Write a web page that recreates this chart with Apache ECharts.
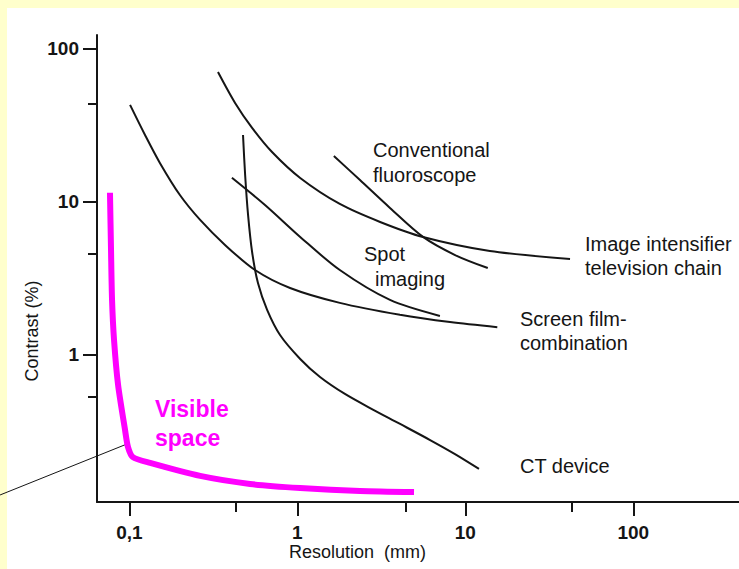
<!DOCTYPE html>
<html>
<head>
<meta charset="utf-8">
<script src="https://cdn.jsdelivr.net/npm/echarts@6/dist/echarts.min.js"></script>
<style>
  html, body { margin: 0; padding: 0; background: #FFFFCC; }
  #bg { position: absolute; left: 7px; top: 8px; width: 732px; height: 561px; background: #ffffff; }
  #chart { position: absolute; left: 0; top: 0; width: 739px; height: 569px; }
</style>
</head>
<body>
<div id="bg"></div>
<div id="chart"></div>
<script>
// ---- axis extents and ticks (values in mm / %) ----
const X_MIN = 0.0642, X_MAX = 425.6;
const Y_MIN = 0.1094, Y_MAX = 123.4;
const xMajorTicks = [0.1, 1, 10, 100];
const xMajorLabels = ['0,1', '1', '10', '100'];
const xMinorTicks = [0.43, 4.4, 43];
const yMajorTicks = [1, 10, 100];
const yMajorLabels = ['1', '10', '100'];
const yMinorTicks = [0.531, 4.57, 43.7];

// ---- curves: resolution (mm) and contrast (%) ----
const screenFilmRes      = [0.101, 0.124, 0.152, 0.200, 0.264, 0.371, 0.560, 0.905, 1.79, 4.08, 8.11, 15.5];
const screenFilmContrast = [43.1, 27.4, 18.0, 11.1, 7.63, 5.24, 3.59, 2.74, 2.19, 1.83, 1.64, 1.52];

const intensifierRes      = [0.337, 0.426, 0.538, 0.707, 1.04, 1.79, 3.11, 5.60, 14.0, 42.0];
const intensifierContrast = [70.7, 44.4, 30.5, 21.2, 14.35, 9.70, 7.40, 5.90, 4.78, 4.24];

const fluoroRes      = [1.65, 2.36, 3.56, 5.60, 8.69, 13.6];
const fluoroContrast = [20.0, 13.9, 9.14, 5.91, 4.50, 3.70];

const spotRes      = [0.408, 0.642, 1.04, 1.79, 3.56, 7.06];
const spotContrast = [14.4, 9.56, 5.91, 3.59, 2.29, 1.80];

const ctRes      = [0.475, 0.489, 0.509, 0.538, 0.583, 0.661, 0.789, 1.04, 1.365, 1.92, 2.71, 4.09, 6.17, 8.68, 12.06];
const ctContrast = [27.4, 15.0, 8.23, 4.71, 2.95, 1.97, 1.35, 0.942, 0.718, 0.556, 0.450, 0.354, 0.278, 0.225, 0.180];

const visibleRes      = [0.0767, 0.0778, 0.0789, 0.0811, 0.0857, 0.0943, 0.0982, 0.105, 0.133, 0.264, 0.523, 1.04, 2.36, 4.95];
const visibleContrast = [11.5, 4.86, 2.29, 1.25, 0.637, 0.323, 0.250, 0.215, 0.197, 0.162, 0.1435, 0.135, 0.129, 0.127];

const pointerRes      = [0.0170, 0.0969];
const pointerContrast = [0.1216, 0.262];

// ---- build ----
const L = Math.log10;
const pairs = (xs, ys) => xs.map((x, i) => [L(x), L(ys[i])]);
const FONT = 'Liberation Sans, Arial, Helvetica, sans-serif';
const INK = '#151515';

function lookup(ticks, labels) {
  return function (v) {
    const i = ticks.findIndex(t => Math.abs(L(t) - v) < 1e-6);
    return i >= 0 ? labels[i] : '';
  };
}

const blackLine = (data) => ({
  type: 'line', data: data, showSymbol: false, smooth: 0.3, silent: true,
  lineStyle: { color: INK, width: 2 }, z: 3
});

const chart = echarts.init(document.getElementById('chart'), null, { renderer: 'svg' });
chart.setOption({
  animation: false,
  backgroundColor: 'transparent',
  grid: { left: 97, right: 0, top: 35, bottom: 67 },
  xAxis: [
    {
      type: 'value', min: L(X_MIN), max: L(X_MAX), position: 'bottom',
      axisLine: { show: true, onZero: false, lineStyle: { color: INK, width: 2 } },
      axisTick: { show: true, length: 14, lineStyle: { color: INK, width: 2 }, customValues: xMajorTicks.map(L) },
      axisLabel: { customValues: xMajorTicks.map(L), formatter: lookup(xMajorTicks, xMajorLabels),
                   margin: 21, fontSize: 19, fontWeight: 'bold', color: INK, fontFamily: FONT },
      splitLine: { show: false }
    },
    {
      type: 'value', min: L(X_MIN), max: L(X_MAX), position: 'bottom',
      axisLine: { show: false, onZero: false },
      axisTick: { show: true, length: 10, lineStyle: { color: INK, width: 2 }, customValues: xMinorTicks.map(L) },
      axisLabel: { show: false },
      splitLine: { show: false }
    }
  ],
  yAxis: [
    {
      type: 'value', min: L(Y_MIN), max: L(Y_MAX), position: 'left',
      axisLine: { show: true, onZero: false, lineStyle: { color: INK, width: 2 } },
      axisTick: { show: true, length: 14, lineStyle: { color: INK, width: 2 }, customValues: yMajorTicks.map(L) },
      axisLabel: { customValues: yMajorTicks.map(L), formatter: lookup(yMajorTicks, yMajorLabels),
                   margin: 18, fontSize: 19, fontWeight: 'bold', color: INK, fontFamily: FONT },
      splitLine: { show: false }
    },
    {
      type: 'value', min: L(Y_MIN), max: L(Y_MAX), position: 'left',
      axisLine: { show: false, onZero: false },
      axisTick: { show: true, length: 9, lineStyle: { color: INK, width: 2 }, customValues: yMinorTicks.map(L) },
      axisLabel: { show: false },
      splitLine: { show: false }
    }
  ],
  series: [
    blackLine(pairs(screenFilmRes, screenFilmContrast)),
    blackLine(pairs(intensifierRes, intensifierContrast)),
    blackLine(pairs(fluoroRes, fluoroContrast)),
    blackLine(pairs(spotRes, spotContrast)),
    blackLine(pairs(ctRes, ctContrast)),
    {
      type: 'line', data: pairs(visibleRes, visibleContrast), showSymbol: false, smooth: 0.25, silent: true,
      lineStyle: { color: '#FF00FF', width: 6 }, z: 4
    },
    {
      type: 'custom', silent: true, clip: false, z: 3,
      data: [[L(pointerRes[0]), L(pointerContrast[0]), L(pointerRes[1]), L(pointerContrast[1])]],
      encode: { x: [0, 2], y: [1, 3] },
      renderItem: function (params, api) {
        const p0 = api.coord([api.value(0), api.value(1)]);
        const p1 = api.coord([api.value(2), api.value(3)]);
        return { type: 'line', shape: { x1: p0[0], y1: p0[1], x2: p1[0], y2: p1[1] },
                 style: { stroke: INK, lineWidth: 1 } };
      }
    }
  ],
  graphic: [
    { type: 'text', left: 373, top: 140, style: { text: 'Conventional', font: '20px ' + FONT, fill: INK } },
    { type: 'text', left: 373, top: 165, style: { text: 'fluoroscope', font: '20px ' + FONT, fill: INK } },
    { type: 'text', left: 364, top: 244, style: { text: 'Spot', font: '20px ' + FONT, fill: INK } },
    { type: 'text', left: 375, top: 269, style: { text: 'imaging', font: '20px ' + FONT, fill: INK } },
    { type: 'text', left: 585, top: 234, style: { text: 'Image intensifier', font: '20px ' + FONT, fill: INK } },
    { type: 'text', left: 585, top: 258, style: { text: 'television chain', font: '20px ' + FONT, fill: INK } },
    { type: 'text', left: 520, top: 309, style: { text: 'Screen film-', font: '20px ' + FONT, fill: INK } },
    { type: 'text', left: 520, top: 333, style: { text: 'combination', font: '20px ' + FONT, fill: INK } },
    { type: 'text', left: 520, top: 456, style: { text: 'CT device', font: '20px ' + FONT, fill: INK } },
    { type: 'text', left: 155, top: 397, style: { text: 'Visible', font: 'bold 23px ' + FONT, fill: '#FF00FF' } },
    { type: 'text', left: 155, top: 426, style: { text: 'space', font: 'bold 23px ' + FONT, fill: '#FF00FF' } },
    { type: 'text', left: 289, top: 543, style: { text: 'Resolution  (mm)', font: '18px ' + FONT, fill: INK } },
    { type: 'text', x: 32, y: 331, rotation: Math.PI / 2,
      style: { text: 'Contrast (%)', font: '18px ' + FONT, fill: INK, textAlign: 'center', textVerticalAlign: 'middle' } }
  ]
});
</script>
</body>
</html>
